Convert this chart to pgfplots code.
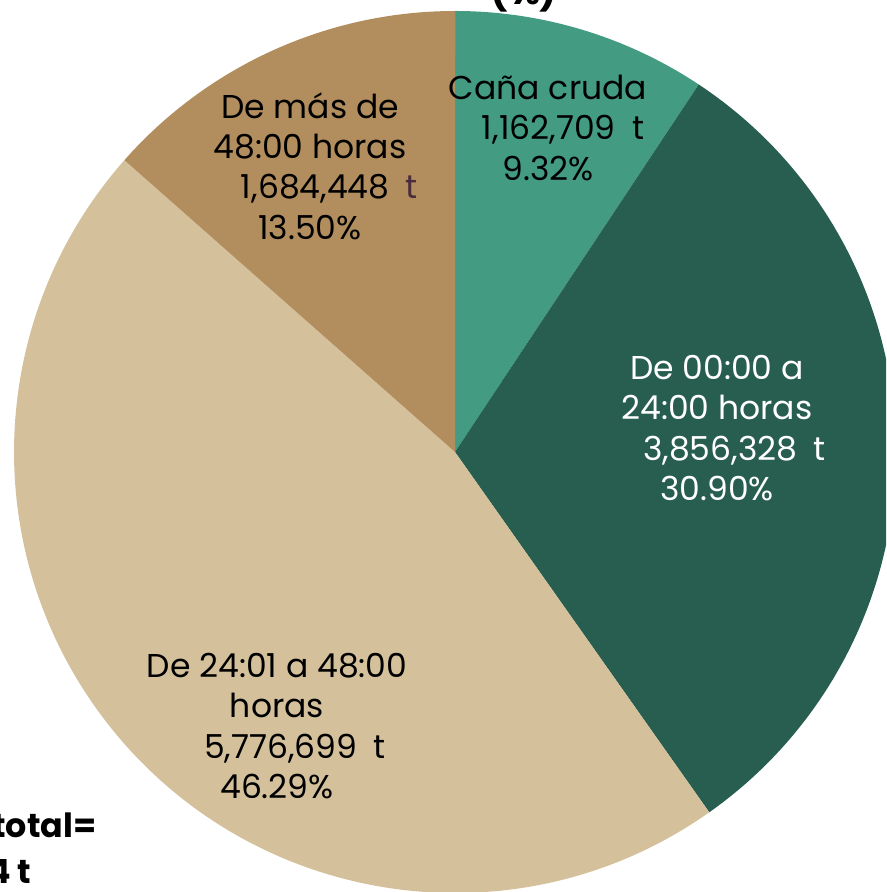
\documentclass[border=0pt]{standalone}
\usepackage{fontspec}
\setmainfont{Poppins}
\usepackage{pgfplots}
\pgfplotsset{compat=1.18}

\definecolor{canacruda}{HTML}{439C82}
\definecolor{verdeosc}{HTML}{275E4F}
\definecolor{arena}{HTML}{D4C19C}
\definecolor{cafe}{HTML}{B28E5F}
\definecolor{tcafe}{HTML}{4B2C3A}

% porcentajes de cada rebanada (sentido horario desde arriba)
\pgfmathsetmacro{\aA}{90}
\pgfmathsetmacro{\aB}{\aA-3.6*9.32}
\pgfmathsetmacro{\aC}{\aB-3.6*30.90}
\pgfmathsetmacro{\aD}{\aC-3.6*46.29}
\pgfmathsetmacro{\aE}{\aD-3.6*13.50}

\begin{document}
\begin{tikzpicture}
\begin{axis}[
    scale only axis,
    width=265.8pt, height=267.6pt,
    xmin=-1.0317, xmax=0.9773,
    ymin=-0.9977, ymax=1.0249,
    hide axis,
    clip=true,
]
\def\R{132.3pt}
\fill[canacruda] (axis cs:0,0) -- ++(\aA:\R) arc[start angle=\aA, end angle=\aB, radius=\R] -- cycle;
\fill[verdeosc]  (axis cs:0,0) -- ++(\aB:\R) arc[start angle=\aB, end angle=\aC, radius=\R] -- cycle;
\fill[arena]     (axis cs:0,0) -- ++(\aC:\R) arc[start angle=\aC, end angle=\aD, radius=\R] -- cycle;
\fill[cafe]      (axis cs:0,0) -- ++(\aD:\R) arc[start angle=\aD, end angle=\aE, radius=\R] -- cycle;

\tikzset{lbl/.style={align=center, inner sep=0pt, font=\fontsize{9.9}{12.1}\selectfont}}
\node[lbl] at (axis cs:0.2109,0.7347)
    {Caña cruda\\\hspace*{9pt}1,162,709\enspace t\\9.32\%};
\node[lbl, text=white] at (axis cs:0.5941,0.0544)
    {De 00:00 a\\24:00 horas\\\hspace*{10.5pt}3,856,328\enspace t\\30.90\%};
\node[lbl] at (axis cs:-0.4036,-0.6213)
    {De 24:01 a 48:00\\horas\\\hspace*{10.8pt}5,776,699\enspace t\\46.29\%};
\node[lbl] at (axis cs:-0.3288,0.6485)
    {De más de\\48:00 horas\\\hspace*{11.7pt}1,684,448\enspace\textcolor{tcafe}{t}\\13.50\%};

\node[anchor=south, inner sep=0pt, font=\fontsize{11}{13}\selectfont\bfseries]
    at (axis cs:0.1565,0.9955) {(\%)};
\node[anchor=base east, inner sep=0pt, font=\fontsize{10}{12}\selectfont\bfseries]
    at (axis cs:-0.8118,-0.8730) {Caña molida total=};
\node[anchor=base east, inner sep=0pt, font=\fontsize{10}{12}\selectfont\bfseries]
    at (axis cs:-0.9592,-0.9773) {12,480,184 t};
\end{axis}
\end{tikzpicture}
\end{document}
